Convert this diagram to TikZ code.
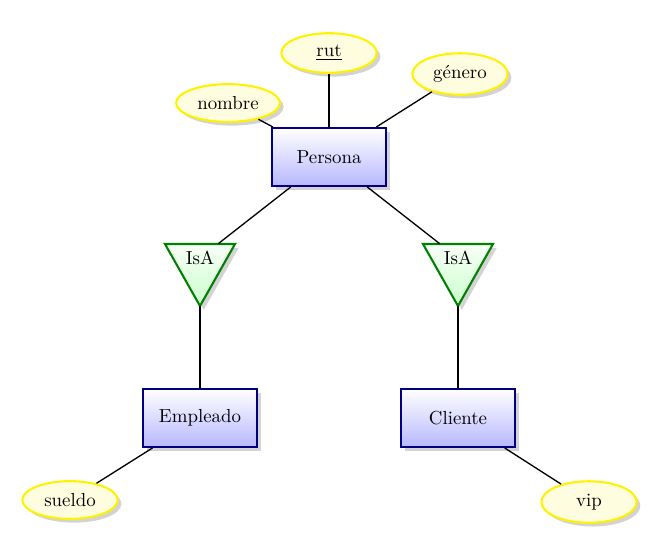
\documentclass[tikz,border=0pt]{standalone}
\usepackage{fontspec}
\usetikzlibrary{shapes.geometric,shadows,calc}
\begin{document}
\begin{tikzpicture}[x=0.53pt,y=-0.53pt,
  entity/.style={rectangle, draw=blue!50!black, line width=1.1pt, top color=white, bottom color=blue!28,
    minimum width=60.4pt, minimum height=30.7pt, inner sep=0pt,
    drop shadow={shadow xshift=2pt,shadow yshift=-2pt,opacity=0.35}},
  attr/.style={ellipse, draw=yellow, line width=1.1pt, fill=yellow!12, inner sep=0pt,
    minimum width=50.5pt, minimum height=21pt,
    drop shadow={shadow xshift=2pt,shadow yshift=-2pt,opacity=0.35}},
  isatext/.style={rectangle, minimum width=37pt, minimum height=14.8pt, inner sep=0pt},
  isashape/.style={draw=green!50!black, line width=1.1pt, top color=green!3, bottom color=green!20,
    drop shadow={shadow xshift=2pt,shadow yshift=-2pt,opacity=0.35}},
  link/.style={line width=0.7pt}]
\useasboundingbox (0,0) rectangle (648,536);

% IsA triangles
\coordinate (i1c) at (200,258);
\coordinate (i1apex) at (200,306);
\coordinate (i2c) at (458,258);
\coordinate (i2apex) at (458,306);
\path[isashape] ($(i1c)+(-35,-14)$) -- ($(i1c)+(35,-14)$) -- (i1apex) -- cycle;
\path[isashape] ($(i2c)+(-35,-14)$) -- ($(i2c)+(35,-14)$) -- (i2apex) -- cycle;
\node[isatext] (i1) at (i1c) {IsA};
\node[isatext] (i2) at (i2c) {IsA};

% entities
\node[entity] (persona) at (329,157) {Persona};
\node[entity] (empleado) at (200,418) {Empleado};
\node[entity] (cliente) at (458,418) {Cliente};

% attributes
\node[attr] (rut) at (329,53) {\underline{rut}};
\node[attr, minimum width=55pt, minimum height=20pt] (nombre) at (228,103) {nombre};
\node[attr, minimum height=22pt] (genero) at (460,74) {género};
\node[attr, minimum height=20pt] (sueldo) at (70,500) {sueldo};
\node[attr, minimum height=22pt] (vip) at (589,502) {vip};

% links
\draw[link] (persona) -- (rut);
\draw[link] (persona) -- (nombre);
\draw[link] (persona) -- (genero);
\draw[link] (persona) -- (i1);
\draw[link] (persona) -- (i2);
\draw[link] (i1apex) -- (empleado);
\draw[link] (i2apex) -- (cliente);
\draw[link] (empleado) -- (sueldo);
\draw[link] (cliente) -- (vip);
\end{tikzpicture}
\end{document}
